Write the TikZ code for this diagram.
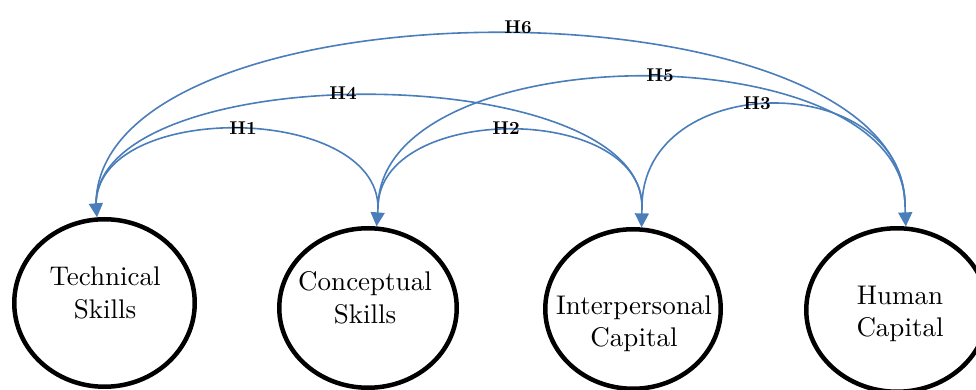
\documentclass[tikz,border=0pt]{standalone}
\usepackage{fontspec}
\setmainfont{lmroman10-regular.otf}[BoldFont=lmroman10-bold.otf]
\usetikzlibrary{arrows.meta,shapes.geometric}
\definecolor{connblue}{RGB}{74,126,187}
\begin{document}
\begin{tikzpicture}[x=1pt,y=1pt,
  ell/.style={draw=black, line width=4.5pt, ellipse, inner sep=0pt},
  txt/.style={align=center, font=\fontsize{27}{32.5}\selectfont, inner sep=0pt},
  hyp/.style={font=\fontsize{18.5}{20}\selectfont\bfseries, inner sep=0pt},
  conn/.style={draw=connblue, line width=1.6pt},
  tipconn/.style={conn, -{Triangle[length=14pt,width=14pt]}}]
\useasboundingbox (0,0) rectangle (976,390);
% ellipses
\node[ell, minimum width=180.5pt, minimum height=167.5pt] (tech) at (104.5,87) {};
\node[ell, minimum width=177.5pt, minimum height=159.5pt] (conc) at (368,82) {};
\node[ell, minimum width=175.5pt, minimum height=159.5pt] (inter) at (633,81) {};
\node[ell, minimum width=181.5pt, minimum height=163.5pt] (human) at (897,80) {};
% texts
\node[txt] (techtxt) at (105,97) {Technical\\Skills};
\node[txt] (conctxt) at (365,92) {Conceptual\\Skills};
\node[txt] (intertxt) at (634,66) {Interpersonal\\Capital};
\node[txt] (humantxt) at (900,76) {Human\\Capital};
% junctions
\coordinate (jT) at (96,185);
\coordinate (jC) at (378,182);
\coordinate (jI) at (642,183);
\coordinate (jH) at (905,184);
% curves
\draw[conn] (jT) .. controls +(0,105) and +(0,105) .. (jC);
\draw[conn] (jT) .. controls +(0,149) and +(0,149) .. (jI);
\draw[conn] (jT) .. controls +(0,231) and +(0,231) .. (jH);
\draw[conn] (jC) .. controls +(0,105) and +(0,105) .. (jI);
\draw[conn] (jC) .. controls +(0,175) and +(0,175) .. (jH);
\draw[conn] (jI) .. controls +(0,138) and +(0,138) .. (jH);
% arrow stubs
\draw[tipconn] (jT) -- (tech.95);
\draw[tipconn] (jC) -- (conc.84);
\draw[tipconn] (jI) -- (inter.84);
\draw[tipconn] (jH) -- (human.84);
% labels
\node[hyp] (h1) at (243,262) {H1};
\node[hyp] (h2) at (506,262) {H2};
\node[hyp] (h3) at (757,287) {H3};
\node[hyp] (h4) at (343,297) {H4};
\node[hyp] (h5) at (660,315) {H5};
\node[hyp] (h6) at (518,363) {H6};
\end{tikzpicture}
\end{document}
